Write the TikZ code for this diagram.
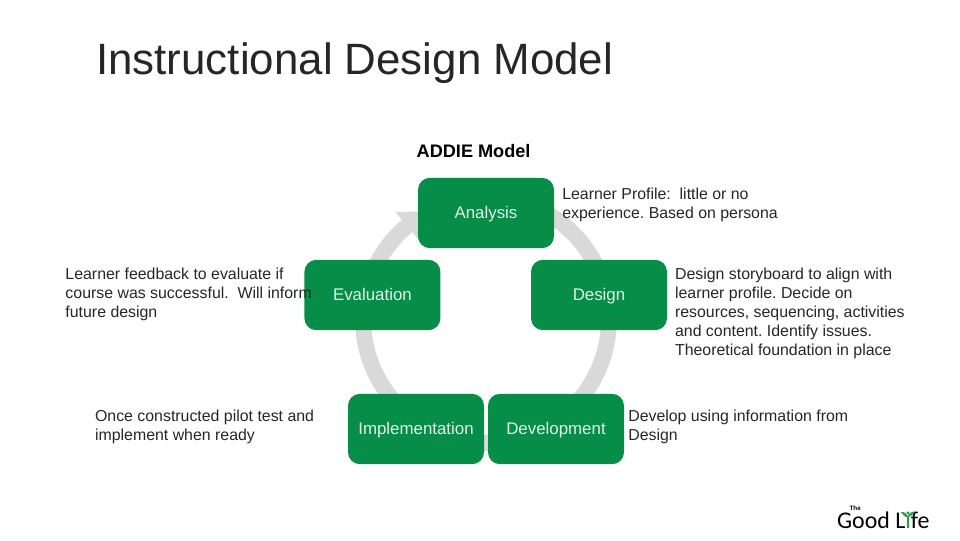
\documentclass[tikz,border=0pt]{standalone}
\usepackage{fontspec}
\setmainfont{Liberation Sans}
\newfontfamily\logofont{Carlito}
\frenchspacing
\definecolor{boxgreen}{HTML}{068D47}
\definecolor{ringgray}{HTML}{D9D9D9}
\definecolor{leafgreen}{HTML}{2E9E45}
\tikzset{
  phase/.style={draw=none,fill=boxgreen,rounded corners=0.3cm,minimum width=3.4cm,minimum height=1.76cm,inner sep=0pt,text height=0.35cm,text depth=0.1cm,text=white!88!boxgreen,font=\fontsize{12}{14}\selectfont},
  note/.style={anchor=north west,align=left,inner sep=0pt,text=black!85,font=\fontsize{11.3}{13.5}\selectfont},
  ring/.style={ringgray,line width=0.4cm}
}
\begin{document}
\begin{tikzpicture}
      \useasboundingbox (0,0) rectangle (24,13.5);
      \coordinate (ringcentre) at (12.15,5.5);

      % Kreis
      \draw [ring] (ringcentre) ++(60:3.07) arc (60:-10:3.07);
      \draw [ring] (ringcentre) ++(-10:3.07) arc (-10:-60:3.07);
      \draw [ring] (ringcentre) ++(-60:3.07) arc (-60:-120:3.07);
      \draw [ring] (ringcentre) ++(-120:3.07) arc (-120:-190:3.07);
      \draw [ring] (ringcentre) ++(170:3.07) arc (170:130:3.07);
      \fill [ringgray,shift={(ringcentre)}] (130:3.53) -- (130:2.61) -- (118:3.07) -- cycle;

      % Felder
      \node [phase] (analysis) at (12.15,8.175) {Analysis};
      \node [phase] (design) at (14.975,6.125) {Design};
      \node [phase] (development) at (13.9,2.775) {Development};
      \node [phase] (implementation) at (10.4,2.775) {Implementation};
      \node [phase] (evaluation) at (9.31,6.125) {Evaluation};

      % Beschriftung
      \node [anchor=north west,inner sep=0pt,text=black!85,font=\fontsize{31.2}{36}\selectfont] (title) at (2.4,12.43) {Instructional Design Model};
      \node [anchor=north,inner sep=0pt,font=\bfseries\fontsize{12.9}{15}\selectfont] (addie) at (11.84,9.9) {ADDIE Model};
      \node [note] (noteanalysis) at (14.05,8.8) {Learner Profile:\ \ little or no\\experience. Based on persona};
      \node [note] (notedesign) at (16.87,6.8) {Design storyboard to align with\\learner profile. Decide on\\resources, sequencing, activities\\and content. Identify issues.\\Theoretical foundation in place};
      \node [note] (notedevelopment) at (15.7,3.25) {Develop using information from\\Design};
      \node [note] (noteimplementation) at (2.37,3.25) {Once constructed pilot test and\\implement when ready};
      \node [note] (noteevaluation) at (1.63,6.8) {Learner feedback to evaluate if\\course was successful.\ \ Will inform\\future design};

      % Logo
      \node [anchor=west,inner sep=0pt,font=\logofont\fontsize{17}{17}\selectfont] (logo) at (20.92,0.5) {Good L{\color{leafgreen}i}fe};
      \node [inner sep=0pt,font=\bfseries\fontsize{4.5}{5}\selectfont] (logothe) at (21.38,0.8) {The};
      \fill [leafgreen,shift={(-0.03,-0.05)}] (22.68,0.62) .. controls (22.6,0.68) and (22.58,0.72) .. (22.55,0.75) .. controls (22.65,0.76) and (22.7,0.7) .. (22.72,0.65) .. controls (22.75,0.72) and (22.82,0.76) .. (22.9,0.77) .. controls (22.85,0.68) and (22.8,0.62) .. cycle;
\end{tikzpicture}
\end{document}
